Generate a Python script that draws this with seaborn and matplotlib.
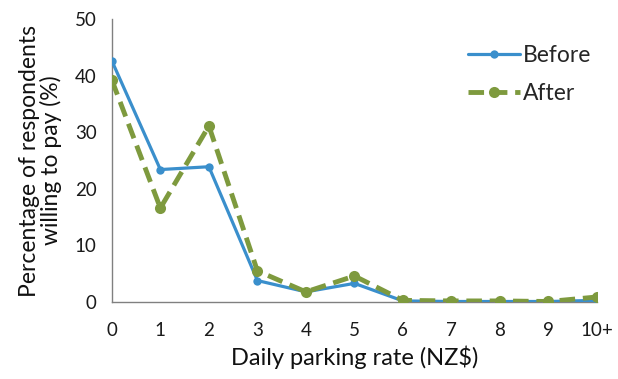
import pandas as pd
import numpy as np
import matplotlib
matplotlib.use("Agg")
import matplotlib.pyplot as plt
import seaborn as sns

# Tarifas diárias (categorias do eixo x)
rates = ["0", "1", "2", "3", "4", "5", "6", "7", "8", "9", "10+"]
before = [42.6, 23.4, 23.9, 3.8, 1.8, 3.3, 0.2, 0.1, 0.1, 0.1, 0.3]
after = [39.2, 16.6, 31.1, 5.5, 1.8, 4.6, 0.3, 0.2, 0.2, 0.1, 0.9]

sns.set_style("white")
plt.rcParams['font.family'] = ['Lato', 'DejaVu Sans']

df = pd.DataFrame({
    "pos": list(range(len(rates))) * 2,
    "valor": before + after,
    "serie": ["Before"] * len(rates) + ["After"] * len(rates),
})

fig = plt.figure(figsize=(6.18, 3.79), dpi=100)
ax = fig.add_axes([0.181, 0.203, 0.785, 0.747])

cores = {"Before": "#3A8FCC", "After": "#7E9A3E"}
sns.lineplot(data=df[df.serie == "Before"], x="pos", y="valor", ax=ax,
             color=cores["Before"], linewidth=2.3, marker="o", markersize=6,
             markeredgewidth=0, label="Before", zorder=3)
sns.lineplot(data=df[df.serie == "After"], x="pos", y="valor", ax=ax,
             color=cores["After"], linewidth=3.5, linestyle=(0, (3.2, 1.6)),
             marker="o", markersize=8, markeredgewidth=0, label="After", zorder=4)

ax.set_xlim(0, len(rates) - 1)
ax.set_ylim(0, 50)
ax.set_xticks(range(len(rates)))
ax.set_xticklabels(rates)
ax.set_yticks([0, 10, 20, 30, 40, 50])

for lado in ["top", "right"]:
    ax.spines[lado].set_visible(False)
for lado in ["left", "bottom"]:
    ax.spines[lado].set_color("#808080")
    ax.spines[lado].set_linewidth(1)

ax.tick_params(axis="both", which="major", direction="out", length=5,
               width=1, color="#808080", labelsize=13.5)
ax.tick_params(axis="x", pad=9)
ax.tick_params(axis="y", pad=6)
ax.tick_params(axis="both", labelcolor="#1a1a1a")
ax.set_xlabel("Daily parking rate (NZ$)", fontsize=17, labelpad=5, color="#111111")
ax.set_ylabel("Percentage of respondents\nwilling to pay (%)", fontsize=16.5,
              labelpad=9, color="#111111", linespacing=1.0)

ax.legend(loc="upper right", bbox_to_anchor=(1.03, 0.98), frameon=False,
          fontsize=16.5, handlelength=2.3, handletextpad=0.1, labelspacing=0.75)

fig.savefig("out.png", dpi=100)
